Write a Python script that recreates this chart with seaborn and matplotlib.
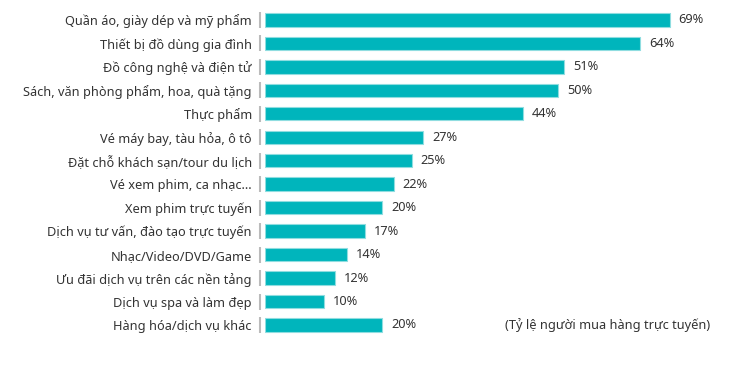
import pandas as pd
import numpy as np
import seaborn as sns
import matplotlib.pyplot as plt

# data
categories = [
    "Quần áo, giày dép và mỹ phẩm",
    "Thiết bị đồ dùng gia đình",
    "Đồ công nghệ và điện tử",
    "Sách, văn phòng phẩm, hoa, quà tặng",
    "Thực phẩm",
    "Vé máy bay, tàu hỏa, ô tô",
    "Đặt chỗ khách sạn/tour du lịch",
    "Vé xem phim, ca nhạc…",
    "Xem phim trực tuyến",
    "Dịch vụ tư vấn, đào tạo trực tuyến",
    "Nhạc/Video/DVD/Game",
    "Ưu đãi dịch vụ trên các nền tảng",
    "Dịch vụ spa và làm đẹp",
    "Hàng hóa/dịch vụ khác",
]
values = [69, 64, 51, 50, 44, 27, 25, 22, 20, 17, 14, 12, 10, 20]
note = "(Tỷ lệ người mua hàng trực tuyến)"

df = pd.DataFrame({"cat": categories, "val": values})

sns.set_style("white")
plt.rcParams["font.family"] = ["Noto Sans", "DejaVu Sans"]

teal = "#00b5bc"
text_col = "#333333"

fig = plt.figure(figsize=(7.5, 3.69), dpi=100)
ax = fig.add_axes([265 / 750, 32.3 / 369, 469 / 750, 328.5 / 369])

sns.barplot(data=df, x="val", y="cat", orient="h", color=teal,
            edgecolor="#8fdde0", linewidth=0.8, width=0.57, saturation=1, ax=ax)

ax.set_xlim(0, 80)
ax.set_ylim(len(categories) - 0.5, -0.5)

# value labels
for i, v in enumerate(values):
    ax.text(v + 1.5, i, f"{v}%", va="center", ha="left", fontsize=9.2, color=text_col)

# small grey dashes in front of the bars
ax.scatter([-0.8] * len(categories), range(len(categories)), marker="|", s=120,
           color="#bbbbbb", linewidths=1.5, clip_on=False)

ax.text(0.949, 13, note, transform=ax.get_yaxis_transform(), ha="right", va="center",
        fontsize=9.2, color=text_col)

ax.set_xlabel("")
ax.set_ylabel("")
ax.set_xticks([])
ax.tick_params(axis="y", length=0, pad=9.5, labelsize=9.2, labelcolor=text_col)
for s in ax.spines.values():
    s.set_visible(False)

fig.savefig("out.png", dpi=100, facecolor="white")
